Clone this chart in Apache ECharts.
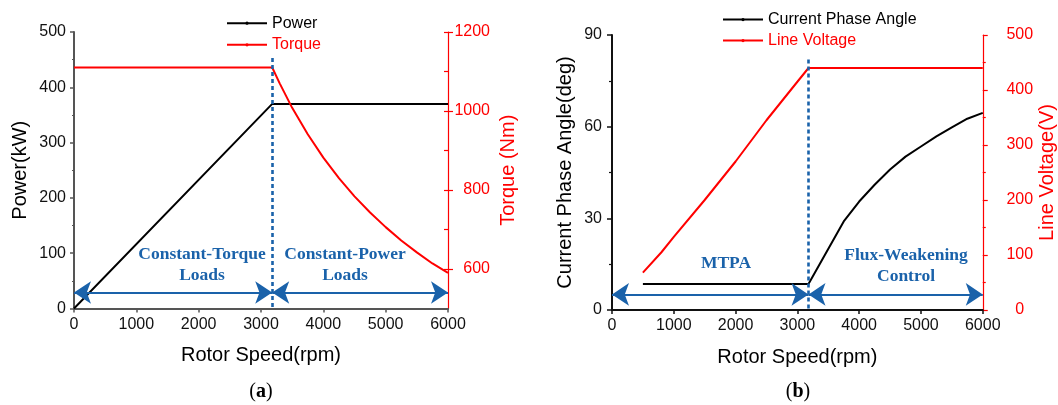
<!DOCTYPE html>
<html>
<head>
<meta charset="utf-8">
<script src="https://cdn.jsdelivr.net/npm/echarts@6/dist/echarts.min.js"></script>
<style>
  html, body { margin: 0; padding: 0; background: #fff; }
  #chart { width: 1058px; height: 405px; }
</style>
</head>
<body>
<div id="chart"></div>
<script>
// (a) power and torque versus rotor speed
const speedPower = [0, 3180, 6000];
const powerKW = [0, 370, 370];
const speedTorque = [0, 3180, 3300, 3500, 3750, 4000, 4250, 4500, 4750, 5000, 5250, 5500, 5750, 6000];
const torqueNm = [1110, 1110, 1070, 1008, 941, 882, 830, 784, 743, 706, 672, 642, 614, 590];

// (b) current phase angle and line voltage versus rotor speed
const speedAngle = [500, 3180, 3750, 4000, 4250, 4500, 4750, 5000, 5250, 5500, 5750, 6000];
const angleDeg = [8.5, 8.5, 29, 35.5, 41, 46, 50.2, 53.5, 56.8, 59.8, 62.6, 64.5];
const speedVoltage = [500, 800, 1000, 1500, 2000, 2500, 3000, 3180, 6000];
const lineVoltage = [68, 105, 133, 200, 270, 345, 415, 440, 440];

// axis ticks
const speedTicks = [0, 1000, 2000, 3000, 4000, 5000, 6000];
const powerTicks = [0, 100, 200, 300, 400, 500];
const torqueTicks = [600, 800, 1000, 1200];
const angleTicks = [0, 30, 60, 90];
const voltageTicks = [0, 100, 200, 300, 400, 500];

// region boundary and annotation levels
const baseSpeed = 3180;
const arrowLevelA = 29;     // kW
const dashTopA = 453;       // kW
const arrowLevelB = 5.1;    // deg
const dashTopB = 82;        // deg

const pairs = (xs, ys) => xs.map((x, i) => [x, ys[i]]);
const plain = (v) => String(v);

const BLUE = '#1a62aa';
const RED = '#ff0000';
const SANS = '"Liberation Sans", Arial, sans-serif';
const SERIF = '"Liberation Serif", "Times New Roman", serif';

const chart = echarts.init(document.getElementById('chart'), null, { renderer: 'canvas' });

function xAxisFor(gridIndex, lineColor) {
  return {
    type: 'value', gridIndex,
    min: speedTicks[0], max: speedTicks[speedTicks.length - 1], interval: 1000,
    name: 'Rotor Speed(rpm)', nameLocation: 'middle', nameGap: 37,
    nameTextStyle: { fontFamily: SANS, fontSize: 20, color: '#000' },
    axisLine: { show: true, onZero: false, lineStyle: { color: lineColor, width: 2 } },
    axisTick: { show: true, length: 4, lineStyle: { color: lineColor, width: 1.5 } },
    axisLabel: { fontFamily: SANS, fontSize: 16, color: '#111', margin: 8, formatter: plain },
    splitLine: { show: false }
  };
}

// double-headed arrows spanning each operating region
const arrowLine = (y) => ({
  silent: true,
  symbol: ['arrow', 'arrow'],
  symbolSize: 17,
  lineStyle: { color: BLUE, width: 2, type: 'solid' },
  label: { show: false },
  emphasis: { disabled: true },
  data: [
    [{ coord: [speedTicks[0], y] }, { coord: [baseSpeed, y] }],
    [{ coord: [baseSpeed, y] }, { coord: [speedTicks[speedTicks.length - 1], y] }]
  ]
});

// dashed boundary at the base speed
const dashLine = (top) => ({
  silent: true,
  symbol: ['none', 'none'],
  lineStyle: { color: BLUE, width: 2.6, type: [4, 3] },
  label: { show: false },
  emphasis: { disabled: true },
  data: [[{ coord: [baseSpeed, top] }, { coord: [baseSpeed, 0] }]]
});

const legendBase = {
  orient: 'vertical', padding: 0,
  itemWidth: 40, itemHeight: 4,
  textStyle: { fontFamily: SANS, fontSize: 16 },
  selectedMode: false
};

const option = {
  backgroundColor: '#fff',
  animation: false,
  grid: [
    { left: 74, top: 32, width: 374, height: 276.5 },
    { left: 612, top: 35, width: 371, height: 275 }
  ],
  legend: [
    Object.assign({}, legendBase, {
      left: 226, top: 15.2, itemGap: 5.6,
      data: [
        { name: 'Power', textStyle: { color: '#000' } },
        { name: 'Torque', textStyle: { color: RED } }
      ]
    }),
    Object.assign({}, legendBase, {
      left: 722, top: 11.6, itemGap: 5,
      data: [
        { name: 'Current Phase Angle', textStyle: { color: '#000' } },
        { name: 'Line Voltage', textStyle: { color: RED } }
      ]
    })
  ],
  xAxis: [xAxisFor(0, '#555'), xAxisFor(1, '#111')],
  yAxis: [
    // 0: power
    {
      type: 'value', gridIndex: 0, position: 'left',
      min: powerTicks[0], max: powerTicks[powerTicks.length - 1], interval: 100,
      name: 'Power(kW)', nameLocation: 'middle', nameRotate: 90, nameGap: 44,
      nameTextStyle: { fontFamily: SANS, fontSize: 20, color: '#000' },
      axisLine: { show: true, lineStyle: { color: '#555', width: 2 } },
      axisTick: { show: true, length: 4, lineStyle: { color: '#555', width: 1.5 } },
      minorTick: { show: true, splitNumber: 2, length: 2, lineStyle: { color: '#555', width: 1.2 } },
      axisLabel: { fontFamily: SANS, fontSize: 16, color: '#111', margin: 8, formatter: plain },
      splitLine: { show: false }
    },
    // 1: torque
    {
      type: 'value', gridIndex: 0, position: 'right',
      min: 500, max: 1200, interval: 100,
      name: 'Torque (Nm)', nameLocation: 'middle', nameRotate: 90, nameGap: 50,
      nameTextStyle: { fontFamily: SANS, fontSize: 20, color: RED },
      axisLine: { show: true, lineStyle: { color: RED, width: 1.2 } },
      axisTick: { show: true, length: 5, customValues: torqueTicks, lineStyle: { color: RED, width: 1.2 } },
      axisLabel: { fontFamily: SANS, fontSize: 16, color: RED, margin: 42, align: 'right', customValues: torqueTicks, formatter: plain },
      splitLine: { show: false }
    },
    // 2: inner half of the torque ticks
    {
      type: 'value', gridIndex: 0, position: 'right',
      min: 500, max: 1200, interval: 100,
      axisLine: { show: false },
      axisTick: { show: true, inside: true, length: 4, customValues: [600, 700, 800, 900, 1000, 1100, 1200], lineStyle: { color: RED, width: 1.2 } },
      axisLabel: { show: false },
      splitLine: { show: false }
    },
    // 3: current phase angle
    {
      type: 'value', gridIndex: 1, position: 'left',
      min: angleTicks[0], max: angleTicks[angleTicks.length - 1], interval: 30,
      name: 'Current Phase Angle(deg)', nameLocation: 'middle', nameRotate: 90, nameGap: 37,
      nameTextStyle: { fontFamily: SANS, fontSize: 20, color: '#000' },
      axisLine: { show: true, lineStyle: { color: '#111', width: 2 } },
      axisTick: { show: true, length: 5, lineStyle: { color: '#111', width: 1.5 } },
      minorTick: { show: true, splitNumber: 2, length: 3, lineStyle: { color: '#111', width: 1.2 } },
      axisLabel: { fontFamily: SANS, fontSize: 16, color: '#111', margin: 10, formatter: plain },
      splitLine: { show: false }
    },
    // 4: line voltage
    {
      type: 'value', gridIndex: 1, position: 'right',
      min: voltageTicks[0], max: voltageTicks[voltageTicks.length - 1], interval: 100,
      name: 'Line Voltage(V)', nameLocation: 'middle', nameRotate: 90, nameGap: 54,
      nameTextStyle: { fontFamily: SANS, fontSize: 20, color: RED },
      axisLine: { show: true, lineStyle: { color: RED, width: 1.2 } },
      axisTick: { show: true, length: 5, lineStyle: { color: RED, width: 1.2 } },
      minorTick: { show: true, splitNumber: 2, length: 3, lineStyle: { color: RED, width: 1.2 } },
      axisLabel: { fontFamily: SANS, fontSize: 16, color: RED, margin: 37, align: 'center', formatter: plain },
      splitLine: { show: false }
    }
  ],
  series: [
    {
      name: 'Power', type: 'line', xAxisIndex: 0, yAxisIndex: 0,
      data: pairs(speedPower, powerKW),
      showSymbol: false, symbol: 'circle', symbolSize: 3,
      lineStyle: { color: '#000', width: 2 }, itemStyle: { color: '#000' },
      z: 3,
      markLine: dashLine(dashTopA)
    },
    {
      name: 'Torque', type: 'line', xAxisIndex: 0, yAxisIndex: 1,
      data: pairs(speedTorque, torqueNm),
      showSymbol: false, symbol: 'circle', symbolSize: 3,
      lineStyle: { color: RED, width: 2 }, itemStyle: { color: RED },
      z: 3
    },
    {
      name: 'arrowsA', type: 'line', xAxisIndex: 0, yAxisIndex: 0,
      data: [], markLine: arrowLine(arrowLevelA)
    },
    {
      name: 'Current Phase Angle', type: 'line', xAxisIndex: 1, yAxisIndex: 3,
      data: pairs(speedAngle, angleDeg),
      showSymbol: false, symbol: 'circle', symbolSize: 3,
      lineStyle: { color: '#000', width: 2 }, itemStyle: { color: '#000' },
      z: 3,
      markLine: dashLine(dashTopB)
    },
    {
      name: 'Line Voltage', type: 'line', xAxisIndex: 1, yAxisIndex: 4,
      data: pairs(speedVoltage, lineVoltage),
      showSymbol: false, symbol: 'circle', symbolSize: 3,
      lineStyle: { color: RED, width: 2 }, itemStyle: { color: RED },
      z: 3
    },
    {
      name: 'arrowsB', type: 'line', xAxisIndex: 1, yAxisIndex: 3,
      data: [], markLine: arrowLine(arrowLevelB)
    }
  ],
  graphic: [
    {
      type: 'text', x: 202, y: 265, z: 10,
      style: { text: 'Constant-Torque\nLoads', font: 'bold 17.5px ' + SERIF, fill: BLUE, align: 'center', verticalAlign: 'middle', lineHeight: 21 }
    },
    {
      type: 'text', x: 345, y: 265, z: 10,
      style: { text: 'Constant-Power\nLoads', font: 'bold 17.5px ' + SERIF, fill: BLUE, align: 'center', verticalAlign: 'middle', lineHeight: 21 }
    },
    {
      type: 'text', x: 726, y: 263, z: 10,
      style: { text: 'MTPA', font: 'bold 17.5px ' + SERIF, fill: BLUE, align: 'center', verticalAlign: 'middle' }
    },
    {
      type: 'text', x: 906, y: 266, z: 10,
      style: { text: 'Flux-Weakening\nControl', font: 'bold 17.5px ' + SERIF, fill: BLUE, align: 'center', verticalAlign: 'middle', lineHeight: 21 }
    },
    {
      type: 'text', x: 261, y: 392, z: 10,
      style: {
        text: '{n|(}{b|a}{n|)}', align: 'center', verticalAlign: 'middle',
        rich: {
          n: { fontFamily: SERIF, fontSize: 20, fill: '#000', color: '#000' },
          b: { fontFamily: SERIF, fontSize: 20, fontWeight: 'bold', fill: '#000', color: '#000' }
        }
      }
    },
    {
      type: 'text', x: 798, y: 392, z: 10,
      style: {
        text: '{n|(}{b|b}{n|)}', align: 'center', verticalAlign: 'middle',
        rich: {
          n: { fontFamily: SERIF, fontSize: 20, fill: '#000', color: '#000' },
          b: { fontFamily: SERIF, fontSize: 20, fontWeight: 'bold', fill: '#000', color: '#000' }
        }
      }
    }
  ]
};

chart.setOption(option);
</script>
</body>
</html>
